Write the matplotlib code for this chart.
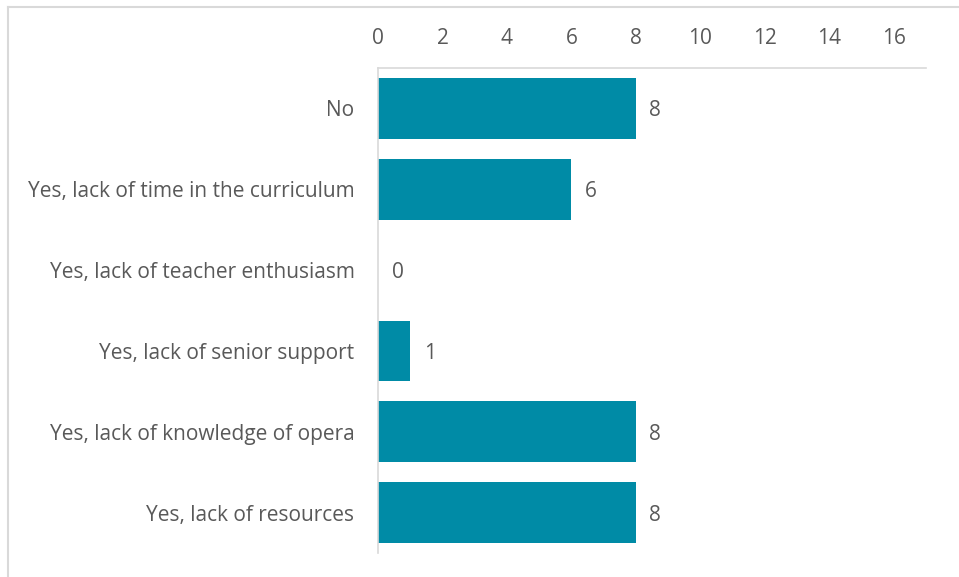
import matplotlib
matplotlib.use("Agg")
import matplotlib.pyplot as plt
from matplotlib.lines import Line2D

categories = [
    "No",
    "Yes, lack of time in the curriculum",
    "Yes, lack of teacher enthusiasm",
    "Yes, lack of senior support",
    "Yes, lack of knowledge of opera",
    "Yes, lack of resources",
]
counts = [8, 6, 0, 1, 8, 8]
xticks = [0, 2, 4, 6, 8, 10, 12, 14, 16]

BAR = "#008BA6"
TXT = "#595959"
GRID = "#D9D9D9"

plt.rcParams["font.family"] = ["Open Sans", "DejaVu Sans"]

fig = plt.figure(figsize=(9.59, 5.77), dpi=100)
ax = fig.add_axes([378 / 959, 1 - 553 / 577, (926 - 378) / 959, (553 - 68) / 577])

pos = list(range(len(categories)))
ax.barh(pos, counts, height=0.75, color=BAR)
ax.set_ylim(len(categories) - 0.5, -0.5)
ax.set_xlim(0, 17)

ax.set_yticks(pos)
ax.set_yticklabels(categories)
ax.set_xticks(xticks)
ax.xaxis.tick_top()
ax.tick_params(axis="both", length=0, colors=TXT, labelsize=15)
ax.tick_params(axis="x", pad=14)
ax.tick_params(axis="y", pad=17)

for s in ("right", "bottom"):
    ax.spines[s].set_visible(False)
for s in ("left", "top"):
    ax.spines[s].set_color(GRID)
    ax.spines[s].set_linewidth(1.2)

# value labels just past the bar ends
for y, v in zip(pos, counts):
    ax.text(v + 0.42, y, str(v), va="center_baseline", ha="left", color=TXT, fontsize=15)

# outer frame, clipped on the right and bottom
fig.add_artist(Line2D([7.5 / 959, 1], [1 - 7 / 577, 1 - 7 / 577], color=GRID, lw=1.5,
                      transform=fig.transFigure))
fig.add_artist(Line2D([7.5 / 959, 7.5 / 959], [0, 1 - 7 / 577], color=GRID, lw=1.5,
                      transform=fig.transFigure))

fig.savefig("out.png", dpi=100)
